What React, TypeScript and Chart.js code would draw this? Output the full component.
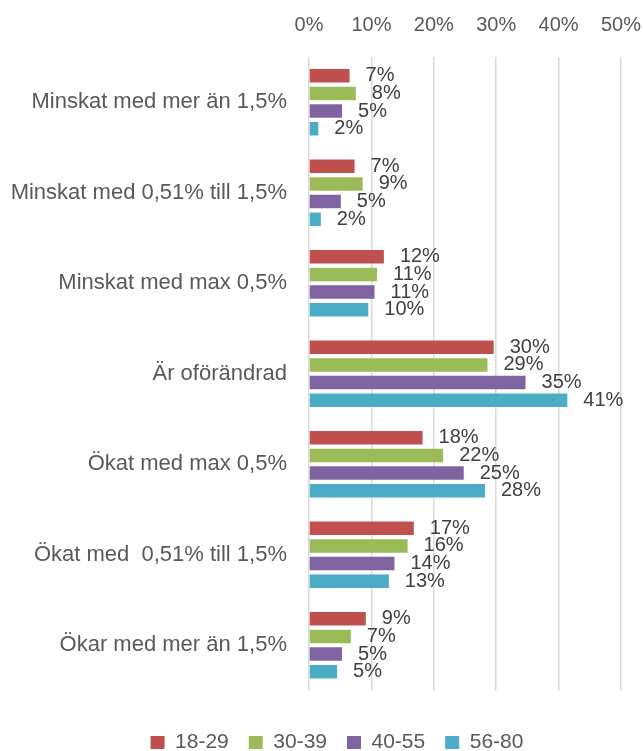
import React, { useEffect, useRef } from "react";
import { Chart, registerables } from "chart.js";

Chart.register(...registerables);

const FONT = "'Liberation Sans', Arial, sans-serif";

const categories = [
  "Minskat med mer än 1,5%",
  "Minskat med 0,51% till 1,5%",
  "Minskat med max 0,5%",
  "Är oförändrad",
  "Ökat med max 0,5%",
  "Ökat med  0,51% till 1,5%",
  "Ökar med mer än 1,5%",
];

const seriesNames = ["18-29", "30-39", "40-55", "56-80"];
const seriesColors = ["#C0504D", "#9BBB59", "#8064A2", "#4BACC6"];

const age18_29 = [6.5, 7.3, 12.0, 29.6, 18.2, 16.8, 9.1];
const age30_39 = [7.5, 8.6, 10.9, 28.6, 21.5, 15.8, 6.7];
const age40_55 = [5.3, 5.1, 10.5, 34.7, 24.8, 13.7, 5.3];
const age56_80 = [1.5, 1.9, 9.5, 41.4, 28.2, 12.8, 4.5];

const xMin = 0;
const xMax = 50;
const xStep = 10;

const dataLabelPlugin = {
  id: "dataLabels",
  afterDatasetsDraw(chart: any) {
    const ctx = chart.ctx;
    ctx.save();
    ctx.font = `20px ${FONT}`;
    ctx.fillStyle = "#404040";
    ctx.textAlign = "left";
    ctx.textBaseline = "middle";
    chart.data.datasets.forEach((ds: any, i: number) => {
      const meta = chart.getDatasetMeta(i);
      meta.data.forEach((bar: any, j: number) => {
        const v = ds.data[j] as number;
        ctx.fillText(Math.round(v) + "%", bar.x + 16, bar.y);
      });
    });
    ctx.restore();
  },
};

// shift the centred legend so it sits under the plot like the original
const legendShiftPlugin = {
  id: "legendShift",
  afterLayout(chart: any) {
    if (chart.legend) chart.legend.left = 53;
  },
};

export default function App() {
  const ref = useRef<HTMLCanvasElement>(null);

  useEffect(() => {
    if (!ref.current) return;
    const allSeries = [age18_29, age30_39, age40_55, age56_80];
    const chart = new Chart(ref.current, {
      type: "bar",
      data: {
        labels: categories,
        datasets: allSeries.map((d, i) => ({
          label: seriesNames[i],
          data: d,
          backgroundColor: seriesColors[i],
          borderWidth: 0,
          categoryPercentage: 0.78,
          barPercentage: 0.76,
        })),
      },
      options: {
        indexAxis: "y",
        responsive: false,
        animation: false,
        layout: { padding: { left: 0, right: 22, top: 0, bottom: 0 } },
        scales: {
          x: {
            type: "linear",
            position: "top",
            min: xMin,
            max: xMax,
            ticks: {
              stepSize: xStep,
              callback: (v: any) => v + "%",
              color: "#595959",
              font: { family: FONT, size: 20 },
              padding: 2,
            },
            grid: {
              color: "#D9D9D9",
              lineWidth: 1.5,
              drawTicks: true,
              tickLength: 18,
              tickColor: "rgba(0,0,0,0)",
            },
            border: { display: false },
            afterFit: (s: any) => {
              s.height = 57;
            },
          },
          x2: {
            type: "linear",
            position: "bottom",
            display: true,
            grid: { display: false },
            ticks: { display: false },
            border: { display: false },
            afterFit: (s: any) => {
              s.height = 21.5;
            },
          },
          y: {
            type: "category",
            grid: { display: false, drawTicks: false },
            border: { display: false },
            ticks: {
              color: "#595959",
              font: { family: FONT, size: 22 },
              padding: 22,
              autoSkip: false,
            },
            afterFit: (s: any) => {
              s.width = 309;
            },
          },
        },
        plugins: {
          legend: {
            position: "bottom",
            labels: {
              boxWidth: 14,
              boxHeight: 13,
              padding: 20,
              color: "#595959",
              font: { family: FONT, size: 21 },
            },
          },
          tooltip: { enabled: false },
        },
      },
      plugins: [dataLabelPlugin, legendShiftPlugin],
    });
    return () => chart.destroy();
  }, []);

  return (
    <div
      style={{
        position: "fixed",
        left: 0,
        top: 0,
        width: 643,
        height: 751,
        overflow: "hidden",
        background: "#fff",
      }}
    >
      <canvas ref={ref} width={643} height={763} style={{ display: "block" }} />
    </div>
  );
}
